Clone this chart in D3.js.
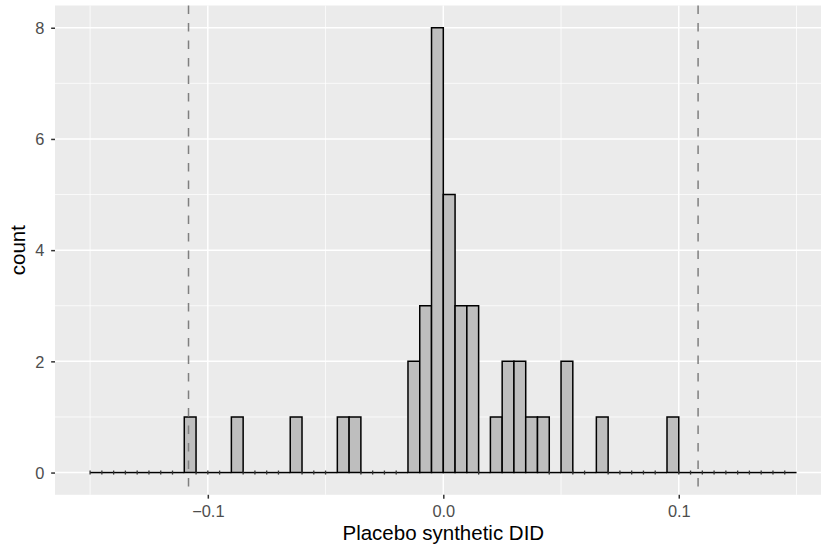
<!DOCTYPE html>
<html>
<head>
<meta charset="utf-8">
<script src="https://cdn.jsdelivr.net/npm/d3@7"></script>
<style>
  body { margin: 0; background: #fff; }
  svg text { font-family: "Liberation Sans", Arial, sans-serif; }
</style>
</head>
<body>
<div id="caja"></div>
<script>
// histogram of placebo estimates, 60 bins of 0.005 from -0.15
var binStart = -0.15, binWidth = 0.005;
var counts = [
  0,0,0,0,0,0,0,0,1,0,
  0,0,1,0,0,0,0,1,0,0,
  0,1,1,0,0,0,0,2,3,8,
  5,3,3,0,1,2,2,1,1,0,
  2,0,0,1,0,0,0,0,0,1,
  0,0,0,0,0,0,0,0,0,0
];
var cutoffs = [-0.1082, 0.1082];   // dashed lines
var xTicks = [-0.1, 0, 0.1], xMinor = [-0.15, -0.05, 0.05, 0.15];
var yTicks = [0, 2, 4, 6, 8], yMinor = [1, 3, 5, 7];

var bins = counts.map(function(c, i) {
  return { x0: binStart + i * binWidth, x1: binStart + (i + 1) * binWidth, n: c };
});

var w = 821, h = 548;
var pL = 55, pT = 5.5, pB = 494.8, pR = 831.6;

var x = d3.scaleLinear().domain([-0.1649, 0.1649]).range([pL, pR]);
var y = d3.scaleLinear().domain([-0.4, 8.4]).range([pB, pT]);

var svg = d3.select('#caja').append('svg')
  .attr('width', w).attr('height', h);

// panel
svg.append('rect').attr('x', pL).attr('y', pT)
  .attr('width', pR - pL).attr('height', pB - pT)
  .attr('fill', '#EBEBEB');

var grid = svg.append('g');
grid.selectAll('.ymin').data(yMinor).enter().append('line')
  .attr('x1', pL).attr('x2', pR)
  .attr('y1', function(d) { return y(d); }).attr('y2', function(d) { return y(d); })
  .attr('stroke', '#fff').attr('stroke-width', 0.75);
grid.selectAll('.xmin').data(xMinor).enter().append('line')
  .attr('y1', pT).attr('y2', pB)
  .attr('x1', function(d) { return x(d); }).attr('x2', function(d) { return x(d); })
  .attr('stroke', '#fff').attr('stroke-width', 0.75);
grid.selectAll('.ymaj').data(yTicks).enter().append('line')
  .attr('x1', pL).attr('x2', pR)
  .attr('y1', function(d) { return y(d); }).attr('y2', function(d) { return y(d); })
  .attr('stroke', '#fff').attr('stroke-width', 1.5);
grid.selectAll('.xmaj').data(xTicks).enter().append('line')
  .attr('y1', pT).attr('y2', pB)
  .attr('x1', function(d) { return x(d); }).attr('x2', function(d) { return x(d); })
  .attr('stroke', '#fff').attr('stroke-width', 1.5);

// bars
var bars = svg.append('g');
bars.selectAll('path').data(bins).enter().append('path')
  .attr('d', function(d) {
    var a = x(d.x0), b = x(d.x1), y0 = y(0), y1 = y(d.n);
    if (d.n === 0) return 'M' + a + ',' + y0 + 'H' + b;
    return 'M' + a + ',' + y0 + 'V' + y1 + 'H' + b + 'V' + y0 + 'Z';
  })
  .attr('fill', function(d) { return d.n > 0 ? '#BEBEBE' : 'none'; })
  .attr('stroke', '#000').attr('stroke-width', 1.5);
// little marks left by empty bins
bars.selectAll('.tk').data(bins.filter(function(d) { return d.n === 0; }))
  .enter().append('line')
  .attr('x1', function(d) { return x(d.x0); }).attr('x2', function(d) { return x(d.x0); })
  .attr('y1', y(0) - 2).attr('y2', y(0) + 2)
  .attr('stroke', '#333').attr('stroke-width', 1.3);

// dashed lines
svg.append('g').selectAll('line').data(cutoffs).enter().append('line')
  .attr('x1', function(d) { return x(d); }).attr('x2', function(d) { return x(d); })
  .attr('y1', pT).attr('y2', pB)
  .attr('stroke', '#7F7F7F').attr('stroke-width', 1.5)
  .attr('stroke-dasharray', '8.5,9');

// axes
var xAxis = svg.append('g').attr('transform', 'translate(0,' + pB + ')')
  .call(d3.axisBottom(x).tickValues(xTicks).tickSizeOuter(0).tickSize(3.85)
    .tickFormat(function(d) { return d === 0 ? '0.0' : d3.format('.1f')(d).replace('-', '\u2212'); }));
var yAxis = svg.append('g').attr('transform', 'translate(' + pL + ',0)')
  .call(d3.axisLeft(y).tickValues(yTicks).tickSizeOuter(0).tickSize(3.85));
[xAxis, yAxis].forEach(function(a) {
  a.attr('font-size', null).attr('font-family', null);
  a.select('.domain').remove();
  a.selectAll('.tick line').attr('stroke', '#333').attr('stroke-width', 1.5);
  a.selectAll('.tick text').attr('fill', '#4D4D4D').style('font-size', '16.4px');
});
xAxis.selectAll('.tick text').attr('y', 21.9).attr('dy', null);
yAxis.selectAll('.tick text').attr('x', -10.7).attr('dy', '0.35em');

// titles
svg.append('text').text('Placebo synthetic DID')
  .attr('x', (pL + pR) / 2).attr('y', 540)
  .attr('text-anchor', 'middle').style('font-size', '20.5px').attr('fill', '#000');
svg.append('text').text('count')
  .attr('transform', 'translate(25,' + ((pT + pB) / 2) + ') rotate(-90)')
  .attr('text-anchor', 'middle').style('font-size', '20.5px').attr('fill', '#000');
</script>
</body>
</html>
